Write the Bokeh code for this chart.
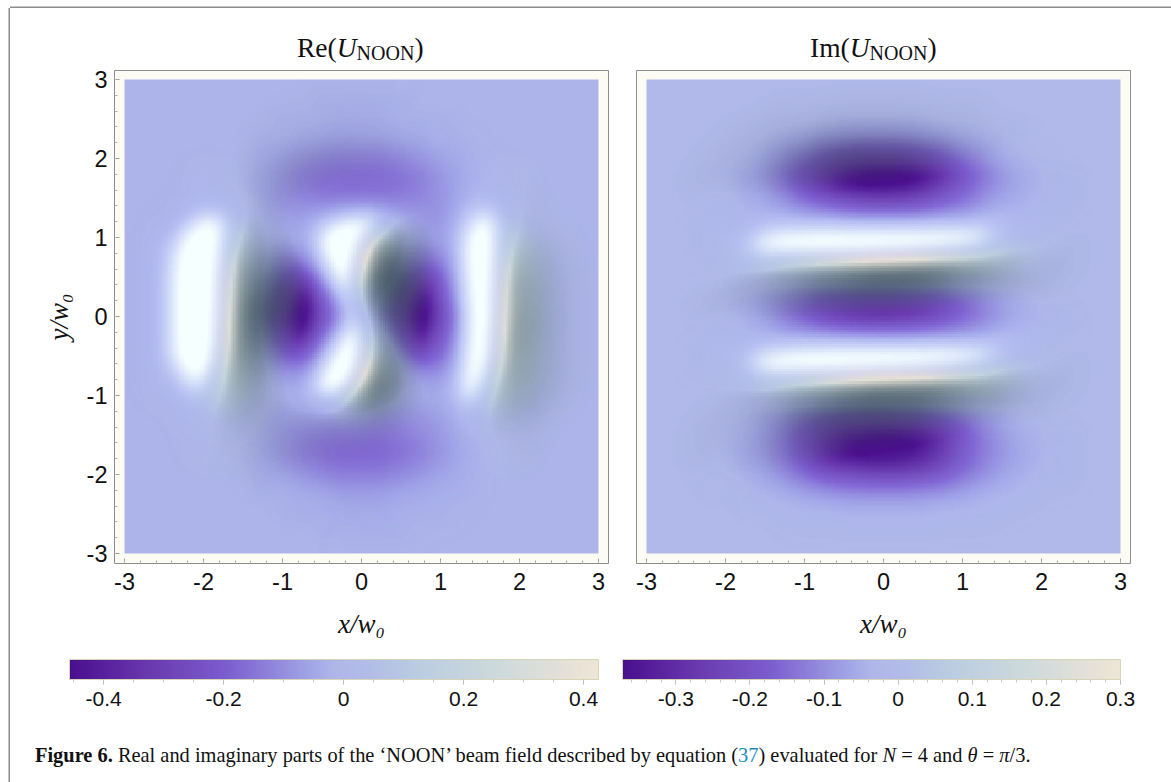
from bokeh.plotting import figure
from bokeh.layouts import row, column
from bokeh.models import LinearColorMapper, ColorBar, FixedTicker, Div
from bokeh.embed import file_html
from bokeh.resources import INLINE
import numpy as np

TICKS = [-3, -2, -1, 0, 1, 2, 3]
BAR_RE_TICKS = [-0.4, -0.2, 0, 0.2, 0.4]
BAR_IM_TICKS = [-0.3, -0.2, -0.1, 0, 0.1, 0.2, 0.3]
BAR_RE_RANGE = (-0.457, 0.425)
BAR_IM_RANGE = (-0.372, 0.30)

# field values in hundredths, rows y = 3 .. -3, columns x = -3 .. 3 (step 0.25)
RE_FIELD = [
[-2,-2,-2,-2,-2,-2,-2,-2,-2,-2,-2,-2,-2,-2,-2,-2,-2,-2,-2,-2,-2,-2,-2,-2,-2],
[-2,-2,-2,-2,-2,-2,-2,-2,-2,-2,-3,-3,-3,-3,-3,-2,-2,-2,-2,-2,-2,-2,-2,-2,-2],
[-2,-2,-2,-2,-2,-2,-2,-2,-3,-3,-3,-4,-4,-4,-3,-3,-3,-2,-2,-2,-2,-2,-2,-2,-2],
[-2,-2,-2,-2,-2,-2,-2,-3,-3,-4,-5,-6,-6,-6,-5,-4,-3,-3,-2,-2,-2,-2,-2,-2,-2],
[-2,-2,-2,-2,-2,-2,-2,-4,-6,-9,-11,-13,-13,-13,-11,-9,-6,-4,-2,-2,-2,-2,-2,-2,-2],
[-2,-2,-2,-2,-1,-1,-2,-5,-9,-13,-16,-17,-17,-17,-16,-13,-9,-5,-2,-1,-1,-2,-2,-2,-2],
[-2,-2,-2,-2,0,0,-1,-5,-9,-12,-14,-15,-15,-15,-14,-12,-9,-5,-1,0,0,-2,-2,-2,-2],
[-2,-2,-2,-1,3,6,4,-3,-7,-7,-4,0,3,0,-4,-8,-9,-3,4,6,3,-1,-2,-2,-2],
[-2,-2,-1,4,12,16,12,0,-4,-4,5,24,34,22,3,-6,-7,0,13,16,10,3,-1,-2,-2],
[-2,-2,1,7,18,26,18,1,-10,-11,3,28,42,28,0,-13,-12,0,19,26,17,6,0,-2,-2],
[-2,-2,1,9,22,33,21,-1,-20,-26,-10,17,34,17,-11,-27,-22,-1,22,33,21,8,1,-2,-2],
[-2,-2,1,9,24,36,24,-4,-28,-44,-24,-1,14,-1,-24,-44,-29,-4,24,36,22,8,1,-2,-2],
[-2,-2,1,9,24,38,24,-8,-34,-50,-30,-8,8,-8,-30,-50,-34,-8,24,38,24,9,1,-2,-2],
[-2,-2,1,9,24,36,24,-6,-28,-42,-20,3,17,3,-22,-42,-28,-6,24,36,22,8,1,-2,-2],
[-2,-2,1,9,21,32,21,-2,-18,-24,-6,20,34,17,-8,-26,-20,-2,21,32,20,8,1,-2,-2],
[-2,-2,1,6,16,24,16,1,-8,-8,5,28,42,26,0,-9,-9,0,18,24,15,6,1,-2,-2],
[-2,-2,-1,3,10,15,10,1,-3,-2,5,20,26,11,-2,-4,-4,1,12,15,9,3,-1,-2,-2],
[-2,-2,-2,-1,3,6,4,-2,-6,-6,-5,-3,-3,-8,-9,-8,-6,-2,4,6,3,-1,-2,-2,-2],
[-2,-2,-2,-2,0,0,-1,-4,-8,-11,-13,-14,-14,-15,-14,-11,-8,-4,-1,0,0,-2,-2,-2,-2],
[-2,-2,-2,-2,-1,-1,-2,-5,-9,-13,-16,-18,-18,-18,-16,-13,-9,-5,-2,-1,-1,-2,-2,-2,-2],
[-2,-2,-2,-2,-2,-2,-2,-4,-6,-9,-12,-14,-14,-14,-12,-9,-6,-4,-2,-2,-2,-2,-2,-2,-2],
[-2,-2,-2,-2,-2,-2,-2,-3,-3,-4,-5,-7,-7,-7,-5,-4,-3,-3,-2,-2,-2,-2,-2,-2,-2],
[-2,-2,-2,-2,-2,-2,-2,-2,-3,-3,-3,-4,-4,-4,-3,-3,-3,-2,-2,-2,-2,-2,-2,-2,-2],
[-2,-2,-2,-2,-2,-2,-2,-2,-2,-2,-3,-3,-3,-3,-3,-2,-2,-2,-2,-2,-2,-2,-2,-2,-2],
[-2,-2,-2,-2,-2,-2,-2,-2,-2,-2,-2,-2,-2,-2,-2,-2,-2,-2,-2,-2,-2,-2,-2,-2,-2],
]
IM_FIELD = [
[-2,-2,-2,-2,-2,-2,-2,-2,-2,-2,-2,-2,-2,-2,-2,-2,-2,-2,-2,-2,-2,-2,-2,-2,-2],
[-2,-2,-2,-2,-2,-2,-2,-2,-2,-2,-2,-2,-2,-2,-2,-2,-2,-2,-2,-2,-2,-2,-2,-2,-2],
[-2,-2,-2,-2,-2,-2,-2,-3,-3,-3,-4,-4,-4,-4,-4,-3,-3,-3,-2,-2,-2,-2,-2,-2,-2],
[-2,-2,-2,-2,-2,-3,-4,-5,-6,-8,-9,-10,-10,-10,-9,-8,-6,-5,-4,-3,-2,-2,-2,-2,-2],
[-2,-2,-2,-2,-3,-4,-6,-10,-14,-19,-23,-26,-26,-26,-23,-19,-14,-10,-6,-4,-3,-2,-2,-2,-2],
[-2,-2,-2,-3,-4,-6,-9,-15,-22,-30,-37,-41,-42,-41,-37,-30,-22,-15,-9,-6,-4,-3,-2,-2,-2],
[-2,-2,-2,-3,-3,-5,-7,-11,-17,-22,-27,-30,-31,-30,-27,-22,-17,-11,-7,-5,-3,-3,-2,-2,-2],
[-2,-2,-2,-2,-2,-3,-3,-4,-6,-7,-9,-10,-10,-10,-9,-7,-6,-4,-3,-3,-2,-2,-2,-2,-2],
[-2,-2,-2,-1,0,1,3,6,8,10,11,12,12,12,11,10,8,6,3,1,0,-1,-2,-2,-2],
[-2,-2,-2,-1,1,3,8,14,19,25,30,33,34,33,30,25,19,14,8,3,1,-1,-2,-2,-2],
[-2,-2,-2,-2,0,1,2,3,5,6,8,10,10,10,8,6,5,3,2,1,0,-2,-2,-2,-2],
[-2,-2,-2,-2,-3,-5,-7,-10,-14,-18,-20,-22,-22,-22,-20,-18,-14,-10,-7,-5,-3,-2,-2,-2,-2],
[-2,-2,-2,-3,-4,-5,-8,-13,-18,-23,-27,-29,-30,-29,-27,-23,-18,-13,-8,-5,-4,-3,-2,-2,-2],
[-2,-2,-2,-2,-2,-3,-4,-6,-8,-9,-11,-12,-12,-12,-11,-9,-8,-6,-4,-3,-2,-2,-2,-2,-2],
[-2,-2,-2,-1,0,1,3,6,9,11,13,14,14,14,13,11,9,6,3,1,0,-1,-2,-2,-2],
[-2,-2,-2,-1,1,3,8,14,19,25,30,33,34,33,30,25,19,14,8,3,1,-1,-2,-2,-2],
[-2,-2,-2,-2,-1,0,2,5,7,9,11,12,12,12,11,9,7,5,2,0,-1,-2,-2,-2,-2],
[-2,-2,-2,-2,-3,-4,-6,-8,-12,-15,-18,-19,-20,-19,-18,-15,-12,-8,-6,-4,-3,-2,-2,-2,-2],
[-2,-2,-2,-3,-4,-5,-8,-13,-20,-27,-33,-36,-37,-36,-33,-27,-20,-13,-8,-5,-4,-3,-2,-2,-2],
[-2,-2,-2,-3,-4,-6,-9,-14,-21,-30,-36,-40,-41,-40,-36,-30,-21,-14,-9,-6,-4,-3,-2,-2,-2],
[-2,-2,-2,-3,-3,-5,-7,-11,-16,-22,-26,-28,-29,-28,-26,-22,-16,-11,-7,-5,-3,-3,-2,-2,-2],
[-2,-2,-2,-2,-2,-3,-4,-5,-7,-9,-10,-11,-11,-11,-10,-9,-7,-5,-4,-3,-2,-2,-2,-2,-2],
[-2,-2,-2,-2,-2,-2,-2,-3,-3,-3,-4,-4,-4,-4,-4,-3,-3,-3,-2,-2,-2,-2,-2,-2,-2],
[-2,-2,-2,-2,-2,-2,-2,-2,-2,-2,-2,-2,-2,-2,-2,-2,-2,-2,-2,-2,-2,-2,-2,-2,-2],
[-2,-2,-2,-2,-2,-2,-2,-2,-2,-2,-2,-2,-2,-2,-2,-2,-2,-2,-2,-2,-2,-2,-2,-2,-2],
]

PAL_F = [0, .15, .3, .45, .5, .56, .65, .8, 1]
PAL_C = ["#4a0f8e", "#6a3ab0", "#7d5fd0", "#a0a4e6", "#afb7ea", "#b2bce8", "#b9cce2", "#ccd9dc", "#efe5d6"]

def h2r(h):
    return [int(h[i:i+2], 16) for i in (1, 3, 5)]
_rgb = np.array([h2r(c) for c in PAL_C], float)
PALETTE = ["#%02x%02x%02x" % tuple(int(np.interp(t, PAL_F, _rgb[:, k])) for k in range(3)) for t in np.linspace(0, 1, 256)]

# relief shading of the original rendering: dark on falling, bright on rising slopes
def shade_palette():
    out = []
    for t in np.linspace(-1, 1, 255):
        if t < 0:
            out.append("#32424b%02x" % int(-t * 255))
        else:
            c = np.array([160, 165, 255]) + t * (np.array([245, 255, 255]) - np.array([160, 165, 255]))
            out.append("#%02x%02x%02x%02x" % (int(c[0]), int(c[1]), int(c[2]), int(t * 255)))
    return out
SHADE = shade_palette()

def blur(a, width, passes):
    ker = np.ones(width) / width
    pad = width * 2
    def one(m):
        p = np.pad(m, ((pad, pad), (0, 0)), mode="edge")
        return np.apply_along_axis(lambda c: np.convolve(c, ker, "same"), 0, p)[pad:-pad]
    for _ in range(passes):
        a = one(a)
        a = one(a.T).T
    return a

def smooth(a, k=8):
    a = np.asarray(a, float)
    n = a.shape[0]
    xs = np.linspace(0, n - 1, (n - 1) * k + 1)
    a = np.array([np.interp(xs, np.arange(n), r) for r in a])
    a = np.array([np.interp(xs, np.arange(n), c) for c in a.T]).T
    return blur(a, 5, 3)

def panel(field, lo, hi, bar_ticks, bar_minor, bar_x, bar_w, width, bl, br, show_y, gy_w):
    V = smooth(np.flipud(np.array(field)) / 100.0)
    step = 6.0 / (V.shape[0] - 1)
    gx = np.gradient(V, step, axis=1)
    gy = np.gradient(V, step, axis=0)   # rows increase with y
    slope = gx - gy_w * gy
    w = np.clip((V + 0.08) / 0.16, 0, 1)
    weight = 0.12 + 0.88 * w * w * (3 - 2 * w)
    S = np.where(slope > 0, np.clip(slope * 3.6, 0, 1) * weight, np.clip(slope * 0.6, -.85, 0))
    S = np.clip(blur(S, 9, 2) * 1.08, -1, 1)
    p = figure(width=width, height=657, output_backend="svg", toolbar_location=None,
               x_range=(-3.127, 3.127), y_range=(-3.127, 3.114),
               frame_width=494, frame_height=493,
               min_border_left=bl, min_border_right=br, min_border_top=2, min_border_bottom=162,
               background_fill_color="#fcfcf5", border_fill_color="white", outline_line_color="#8c8c8c")
    p.grid.visible = False
    mapper = LinearColorMapper(palette=PALETTE, low=lo, high=hi)
    p.image(image=[V], x=-3, y=-3, dw=6, dh=6, color_mapper=mapper)
    p.image(image=[S], x=-3, y=-3, dw=6, dh=6, color_mapper=LinearColorMapper(palette=SHADE, low=-1, high=1))
    minor = [i / 5 for i in range(-15, 16)]
    for ax in (p.xaxis[0], p.yaxis[0]):
        ax.ticker = FixedTicker(ticks=TICKS, minor_ticks=minor)
        ax.major_label_overrides = {t: str(t) for t in TICKS}
        ax.axis_line_color = None
        ax.major_tick_in, ax.major_tick_out = 5, 0
        ax.minor_tick_in, ax.minor_tick_out = 3, 0
        ax.major_tick_line_color = "#9a9a9a"
        ax.minor_tick_line_color = "#b0b0b0"
        ax.major_label_text_font = "Liberation Sans"
        ax.major_label_text_font_size = "23.5px"
        ax.major_label_text_color = "#111111"
        ax.axis_label_text_font = "Liberation Serif"
        ax.axis_label_text_font_style = "italic"
        ax.axis_label_text_font_size = "27px"
        ax.axis_label_text_color = "#111111"
    p.xaxis[0].major_label_standoff = 9
    p.yaxis[0].major_label_standoff = 7
    p.xaxis[0].axis_label = "x/w\u2080"
    p.xaxis[0].axis_label_standoff = 16
    if show_y:
        p.yaxis[0].axis_label = "y/w\u2080"
        p.yaxis[0].axis_label_standoff = 10
        p.yaxis[0].major_label_orientation = "horizontal"
    else:
        p.yaxis.visible = False

    bar = ColorBar(color_mapper=mapper, orientation="horizontal", width=bar_w, height=20,
                   location=(bar_x, -145), padding=0, margin=0,
                   ticker=FixedTicker(ticks=bar_ticks, minor_ticks=bar_minor),
                   major_label_overrides={t: ("0" if t == 0 else str(t)) for t in bar_ticks},
                   major_label_text_font="Liberation Sans", major_label_text_font_size="21px",
                   major_label_text_color="#111111", label_standoff=7,
                   major_tick_in=0, major_tick_out=5, minor_tick_in=0, minor_tick_out=3,
                   major_tick_line_color="#b8b8b0", minor_tick_line_color="#c8c8c0",
                   bar_line_color="#d8d4b8", border_line_color=None, background_fill_color=None)
    p.add_layout(bar)
    return p

p1 = panel(RE_FIELD, *BAR_RE_RANGE, BAR_RE_TICKS, [i / 20 for i in range(-9, 9)], -45, 529, 612, 104, 14, True, 0.55)
p2 = panel(IM_FIELD, *BAR_IM_RANGE, BAR_IM_TICKS, [i / 50 for i in range(-18, 16)], -14, 498, 542, 14, 34, False, 1.0)

def title_html(head, left):
    return (f'<div style="position:absolute;left:{left}px;top:19px;line-height:32px;white-space:nowrap;'
            f'font-family:\'Liberation Serif\';font-size:27.5px;color:#111;">{head}<i>U</i>'
            f'<span style="font-size:20px;position:relative;top:2.6px">NOON</span>)</div>')

titles = Div(width=1154, height=50, text=title_html("Re(", 282) + title_html("Im(", 795))

caption = Div(width=1154, height=49, text=(
    '<div style="font-family:\'Liberation Serif\';font-size:20.4px;color:#111;white-space:nowrap;padding:13px 0 0 20px;line-height:24px;">'
    '<b>Figure 6.</b> Real and imaginary parts of the \u2018NOON\u2019 beam field described by equation '
    '(<span style="color:#1c8fc0">37</span>) evaluated for <i>N</i> = 4 and <i>\u03b8</i> = <i>\u03c0</i>/3.</div>'))

layout = column(titles, row(p1, p2, spacing=0), caption, spacing=0,
                styles={"margin-left": "10px", "margin-top": "8px",
                        "box-shadow": "-1.5px 0 0 #8c8c8c, 1.5px 0 0 #8c8c8c, 0 -1.5px 0 #8c8c8c"})
open("out.html", "w").write(file_html(layout, INLINE))
